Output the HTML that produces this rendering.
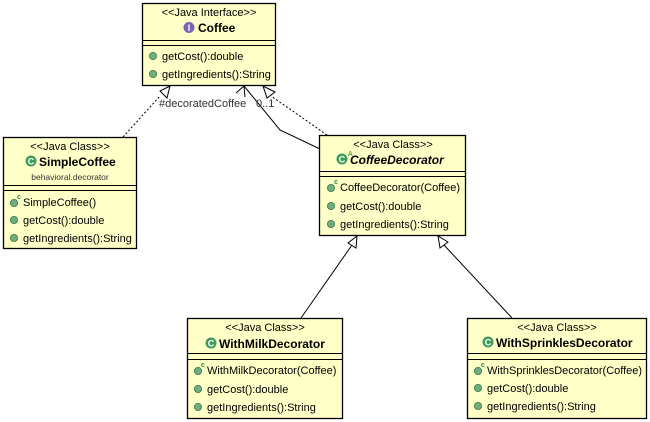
<!DOCTYPE html>
<html><head><meta charset="utf-8"><style>
html,body{margin:0;padding:0;background:#fff;}
svg{display:block;font-family:"Liberation Sans",sans-serif;}
</style></head><body>
<svg width="650" height="422" viewBox="0 0 650 422" xmlns="http://www.w3.org/2000/svg">
<defs>
<g id="m"><circle r="3.6" fill="#6fae7d" stroke="#3d7a4c" stroke-width="0.8"/></g>
<g id="c"><circle r="5.5" fill="#3e9b5c"/><text x="0" y="3.3" font-size="9" font-weight="bold" fill="#fff" text-anchor="middle">C</text></g>
</defs>
<g fill="#ffffc8" stroke="#000" stroke-width="1.3">
<rect x="142.5" y="3.5" width="133" height="82"/>
<rect x="3.5" y="137.5" width="133" height="111"/>
<rect x="319.5" y="135.5" width="146" height="100"/>
<rect x="187.5" y="318.5" width="155" height="100"/>
<rect x="467.5" y="318.5" width="179" height="100"/>
</g>
<g stroke="#000" stroke-width="1">
<line x1="142" y1="40.5" x2="276" y2="40.5"/><line x1="142" y1="45.5" x2="276" y2="45.5"/>
<line x1="3" y1="185.5" x2="137" y2="185.5"/><line x1="3" y1="190.5" x2="137" y2="190.5"/>
<line x1="319" y1="171.5" x2="466" y2="171.5"/><line x1="319" y1="176.5" x2="466" y2="176.5"/>
<line x1="187" y1="353.5" x2="343" y2="353.5"/><line x1="187" y1="359.5" x2="343" y2="359.5"/>
<line x1="467" y1="353.5" x2="647" y2="353.5"/><line x1="467" y1="359.5" x2="647" y2="359.5"/>
</g>
<g stroke="#000" stroke-width="1" fill="none">
<polyline points="123,137 160,96" stroke-dasharray="2,2"/>
<polygon points="170,86 160,91 167,98" fill="#fff"/>
<polyline points="327,135 271,96" stroke-dasharray="2,2"/>
<polygon points="263,86 267,98 275,92" fill="#fff"/>
<polyline points="244,86 280,130 320,149"/>
<polyline points="236,93 244,86 245,97"/>
<line x1="301" y1="318" x2="352" y2="245"/>
<polygon points="357,236 348,243 356,248" fill="#fff"/>
<line x1="512" y1="318" x2="444" y2="245"/>
<polygon points="438,236 440,248 448,242" fill="#fff"/>
</g>
<g font-size="11" fill="#333">
<text x="159" y="107">#decoratedCoffee</text>
<text x="256" y="107">0..1</text>
</g>
<g font-size="11">
<text x="209" y="16" text-anchor="middle">&lt;&lt;Java Interface&gt;&gt;</text>
<circle cx="189" cy="27.5" r="5.5" fill="#7b62b5"/><text x="189" y="31" font-size="9" font-weight="bold" fill="#fff" text-anchor="middle">I</text>
<text x="198" y="32" font-size="12" font-weight="bold">Coffee</text>
<use href="#m" x="153" y="56"/><text x="162" y="60">getCost():double</text>
<use href="#m" x="153" y="74"/><text x="162" y="78">getIngredients():String</text>

<text x="70" y="150" text-anchor="middle">&lt;&lt;Java Class&gt;&gt;</text>
<use href="#c" x="31" y="161"/><text x="39" y="166" font-size="12" font-weight="bold">SimpleCoffee</text>
<text x="70" y="180" font-size="8.5" fill="#333" text-anchor="middle">behavioral.decorator</text>
<use href="#m" x="14" y="203"/><text x="17" y="199" font-size="7" font-weight="bold" fill="#2a8a3a">c</text><text x="23" y="206">SimpleCoffee()</text>
<use href="#m" x="14" y="220"/><text x="23" y="224">getCost():double</text>
<use href="#m" x="14" y="238"/><text x="23" y="242">getIngredients():String</text>

<text x="393" y="148" text-anchor="middle">&lt;&lt;Java Class&gt;&gt;</text>
<use href="#c" x="342" y="159"/><text x="348" y="156" font-size="7" fill="#2a8a3a">A</text>
<text x="350" y="164" font-size="12" font-weight="bold" font-style="italic">CoffeeDecorator</text>
<use href="#m" x="331" y="188"/><text x="334" y="184" font-size="7" font-weight="bold" fill="#2a8a3a">c</text><text x="340" y="191">CoffeeDecorator(Coffee)</text>
<use href="#m" x="331" y="206"/><text x="340" y="210">getCost():double</text>
<use href="#m" x="331" y="224"/><text x="340" y="228">getIngredients():String</text>

<text x="265" y="331" text-anchor="middle">&lt;&lt;Java Class&gt;&gt;</text>
<use href="#c" x="211" y="343"/><text x="219" y="348" font-size="12" font-weight="bold">WithMilkDecorator</text>
<use href="#m" x="198" y="371"/><text x="201" y="367" font-size="7" font-weight="bold" fill="#2a8a3a">c</text><text x="207" y="374">WithMilkDecorator(Coffee)</text>
<use href="#m" x="198" y="389"/><text x="207" y="393">getCost():double</text>
<use href="#m" x="198" y="407"/><text x="207" y="411">getIngredients():String</text>

<text x="557" y="331" text-anchor="middle">&lt;&lt;Java Class&gt;&gt;</text>
<use href="#c" x="488" y="342"/><text x="496" y="347" font-size="12" font-weight="bold">WithSprinklesDecorator</text>
<use href="#m" x="478" y="371"/><text x="481" y="367" font-size="7" font-weight="bold" fill="#2a8a3a">c</text><text x="487" y="374">WithSprinklesDecorator(Coffee)</text>
<use href="#m" x="478" y="388"/><text x="487" y="392">getCost():double</text>
<use href="#m" x="478" y="406"/><text x="487" y="410">getIngredients():String</text>
</g>
</svg>
</body></html>
